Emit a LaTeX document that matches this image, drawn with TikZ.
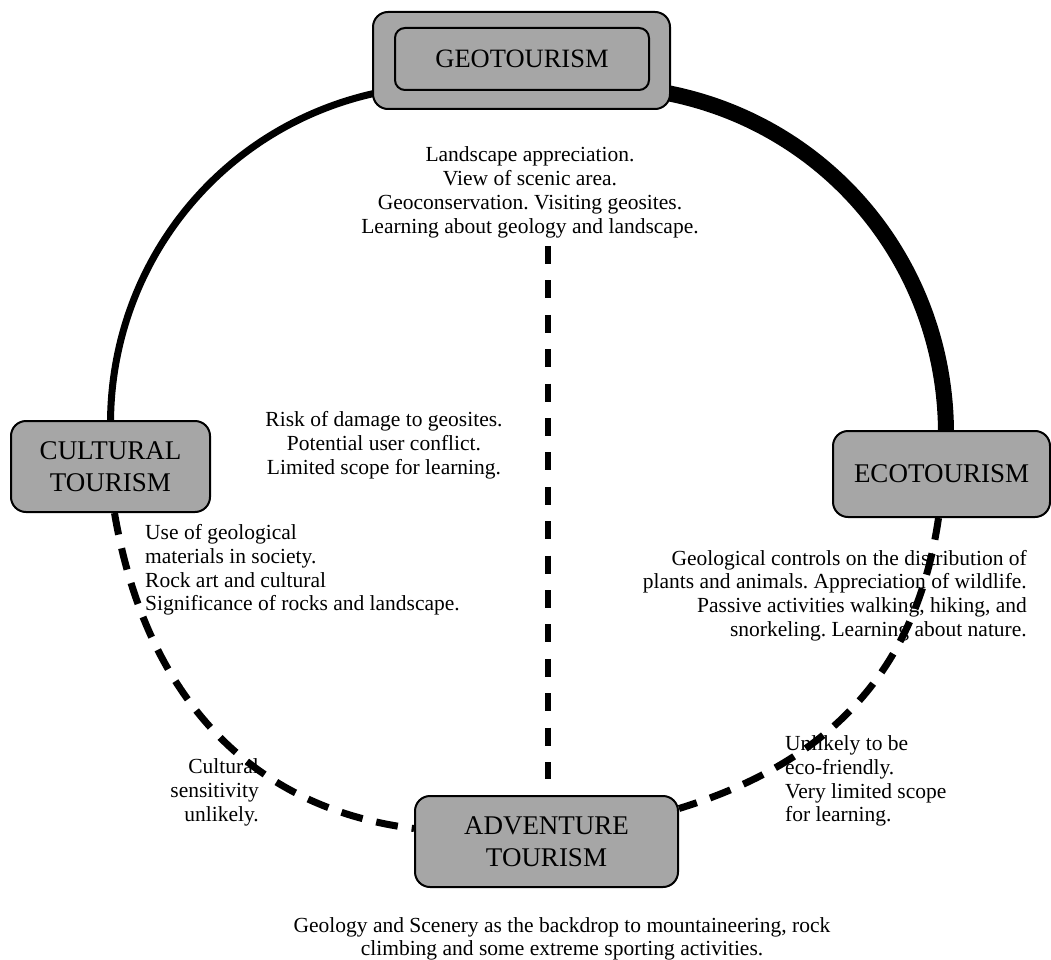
\documentclass[tikz,border=0pt]{standalone}
\usepackage{fontspec}
\setmainfont{Liberation Serif}
\usetikzlibrary{calc,backgrounds}
\definecolor{boxgray}{RGB}{166,166,166}
\frenchspacing
\begin{document}
\begin{tikzpicture}[x=1pt,y=-1pt,
  box/.style={draw=black, line width=2pt, fill=boxgray, rounded corners=15pt,
    inner sep=0pt, align=center, font=\fontsize{27}{32}\selectfont},
  note/.style={inner sep=0pt, font=\fontsize{21.5}{23.8}\selectfont},
  solidarc/.style={line width=7pt},
  thickarc/.style={line width=16pt},
  dasharc/.style={line width=7pt, dash pattern=on 22pt off 14pt},
  axisline/.style={line width=5.5pt, dash pattern=on 18pt off 16.4pt}]
\useasboundingbox (0,0) rectangle (1051,960);

% tourism types
\node[box, minimum width=297pt, minimum height=97pt] (geo) at (521.5,60.5) {};
\node[box, rounded corners=10pt, minimum width=254pt, minimum height=62pt,
  font=\fontsize{26.5}{32}\selectfont] (geoin) at (522,59) {GEOTOURISM};
\node[box, minimum width=199pt, minimum height=91pt] (cult) at (110.5,466.5) {CULTURAL\\TOURISM};
\node[box, minimum width=217pt, minimum height=86pt] (eco) at (941.5,474) {ECOTOURISM};
\node[box, minimum width=263pt, minimum height=91pt] (adv) at (546.5,841.5) {ADVENTURE\\TOURISM};

% links between the types
\begin{pgfonlayer}{background}
\draw[solidarc] ($(geo.south west)+(4,-17)$) .. controls (220,127) and (110.5,264) .. ($(cult.north)+(0,4)$);
\draw[thickarc] ($(geo.south east)+(-4,-17)$) .. controls (831,125) and (946,267) .. ($(eco.north)+(4.5,4)$);
\draw[dasharc] ($(cult.south)+(4,0)$) .. controls (145,693) and (248,808) .. ($(adv.west)+(0,-13)$);
\draw[dasharc] ($(eco.south)+(-3,0)$) .. controls (915,680) and (820,765) .. ($(adv.east)+(0,-33)$);
\coordinate (vtop) at (548,246);
\draw[axisline] (vtop) -- ($(adv.north)+(1.5,-16)$);
\end{pgfonlayer}

% descriptions
\node[note, align=center] (geotext) at (530,192.5) {Landscape appreciation.\\View of scenic area.\\Geoconservation. Visiting geosites.\\Learning about geology and landscape.};
\node[note, align=center] (risk) at (384,445.5) {Risk of damage to geosites.\\Potential user conflict.\\Limited scope for learning.};
\node[note, align=left, anchor=west] (culttext) at (145,570) {Use of geological\\materials in society.\\Rock art and cultural\\Significance of rocks and landscape.};
\node[note, align=right, anchor=east] (ecotext) at (1027,595.5) {Geological controls on the distribution of\\plants and animals. Appreciation of wildlife.\\Passive activities walking, hiking, and\\snorkeling. Learning about nature.};
\node[note, align=right, anchor=east] (cultadv) at (259,792.5) {Cultural\\sensitivity\\unlikely.};
\node[note, align=left, anchor=west] (ecoadv) at (785,781) {Unlikely to be\\eco-friendly.\\Very limited scope\\for learning.};
\node[note, align=center, font=\fontsize{21.5}{22.5}\selectfont] (advtext) at (562,939) {Geology and Scenery as the backdrop to mountaineering, rock\\climbing and some extreme sporting activities.};
\end{tikzpicture}
\end{document}
